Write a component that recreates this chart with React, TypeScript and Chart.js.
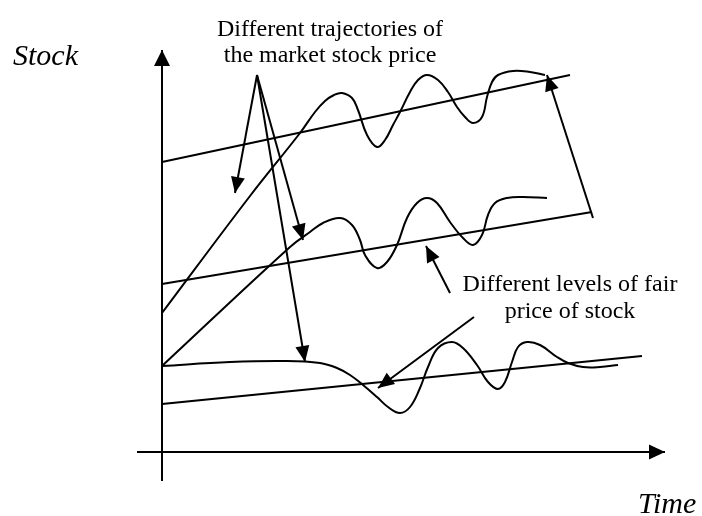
import React, { useEffect, useRef } from "react";
import { Chart, registerables } from "chart.js";

Chart.register(...registerables);

type P = { x: number; y: number };

// Coordinate system: time on x (0 at the price axis), price on y (0 at the time axis)
const X_RANGE = [-162, 540];
const Y_RANGE = [-64, 452];

const priceAxis: P[] = [{ x: 0, y: -29 }, { x: 0, y: 402 }];
const timeAxis: P[] = [{ x: -25, y: 0 }, { x: 503, y: 0 }];

const fairHigh: P[] = [{ x: 0, y: 290 }, { x: 408, y: 377 }];
const fairMid: P[] = [{ x: 0, y: 168 }, { x: 430, y: 240 }];
const fairLow: P[] = [{ x: 0, y: 48 }, { x: 480, y: 96 }];

const marketHigh: P[] = [
  { x: 0, y: 139 }, { x: 88, y: 256 }, { x: 138, y: 319 }, { x: 153, y: 340 },
  { x: 163, y: 351 }, { x: 172, y: 357 }, { x: 180, y: 359 }, { x: 190, y: 354 },
  { x: 196, y: 342 }, { x: 205, y: 317 }, { x: 215, y: 305 }, { x: 223, y: 312 },
  { x: 231, y: 327 }, { x: 238, y: 340 }, { x: 248, y: 360 }, { x: 256, y: 372 },
  { x: 265, y: 377 }, { x: 276, y: 372 }, { x: 286, y: 360 }, { x: 295, y: 345 },
  { x: 303, y: 335 }, { x: 311, y: 329 }, { x: 320, y: 335 }, { x: 325, y: 355 },
  { x: 330, y: 370 }, { x: 336, y: 377 }, { x: 351, y: 381 }, { x: 368, y: 380 },
  { x: 383, y: 377 },
];
const marketMid: P[] = [
  { x: 0, y: 86 }, { x: 128, y: 205 }, { x: 148, y: 220 }, { x: 161, y: 229 },
  { x: 178, y: 234 }, { x: 190, y: 227 }, { x: 198, y: 212 }, { x: 203, y: 197 },
  { x: 215, y: 184 }, { x: 225, y: 190 }, { x: 235, y: 207 }, { x: 245, y: 234 },
  { x: 255, y: 249 }, { x: 265, y: 254 }, { x: 275, y: 249 }, { x: 288, y: 230 },
  { x: 301, y: 214 }, { x: 311, y: 207 }, { x: 320, y: 217 }, { x: 326, y: 237 },
  { x: 333, y: 249 }, { x: 345, y: 254 }, { x: 361, y: 255 }, { x: 385, y: 254 },
];
const marketLow: P[] = [
  { x: 0, y: 86 }, { x: 68, y: 90 }, { x: 123, y: 91 }, { x: 158, y: 89 },
  { x: 175, y: 84 }, { x: 188, y: 77 }, { x: 201, y: 67 }, { x: 215, y: 55 },
  { x: 226, y: 45 }, { x: 238, y: 39 }, { x: 248, y: 45 }, { x: 258, y: 64 },
  { x: 266, y: 85 }, { x: 276, y: 104 }, { x: 290, y: 110 }, { x: 301, y: 104 },
  { x: 315, y: 87 }, { x: 326, y: 70 }, { x: 336, y: 63 }, { x: 343, y: 70 },
  { x: 350, y: 90 }, { x: 356, y: 105 }, { x: 365, y: 110 }, { x: 378, y: 107 },
  { x: 395, y: 95 }, { x: 406, y: 89 }, { x: 421, y: 85 }, { x: 438, y: 85 },
  { x: 456, y: 87 },
];

const pointerA: P[] = [{ x: 95, y: 377 }, { x: 73, y: 259 }];
const pointerB: P[] = [{ x: 95, y: 377 }, { x: 141, y: 212 }];
const pointerC: P[] = [{ x: 95, y: 377 }, { x: 143, y: 90 }];
const gapArrow: P[] = [{ x: 431, y: 234 }, { x: 385, y: 377 }];
const fairPointerA: P[] = [{ x: 288, y: 159 }, { x: 264, y: 206 }];
const fairPointerB: P[] = [{ x: 312, y: 135 }, { x: 216, y: 64 }];

const trajectoryLabel = ["Different trajectories of", "the market stock price"];
const fairLabel = ["Different levels of fair", "price of stock"];
const yTitle = "Stock";
const xTitle = "Time";

const arrowHeadPlugin = {
  id: "arrowHeads",
  afterDatasetsDraw(chart: any) {
    const ctx = chart.ctx;
    chart.data.datasets.forEach((ds: any, i: number) => {
      if (!ds.head) return;
      const pts = chart.getDatasetMeta(i).data;
      const a = pts[pts.length - 2];
      const b = pts[pts.length - 1];
      const ang = Math.atan2(b.y - a.y, b.x - a.x);
      const [L, W] = ds.head;
      const c = Math.cos(ang), s = Math.sin(ang);
      ctx.save();
      ctx.fillStyle = "#000";
      ctx.beginPath();
      ctx.moveTo(b.x, b.y);
      ctx.lineTo(b.x - L * c + W * s, b.y - L * s - W * c);
      ctx.lineTo(b.x - L * c - W * s, b.y - L * s + W * c);
      ctx.closePath();
      ctx.fill();
      ctx.restore();
    });
  },
};

const textPlugin = {
  id: "diagramText",
  afterDraw(chart: any) {
    const ctx = chart.ctx;
    const xs = chart.scales.x, ys = chart.scales.y;
    const put = (t: string, x: number, y: number, font: string, align: CanvasTextAlign) => {
      ctx.save();
      ctx.fillStyle = "#000";
      ctx.font = font;
      ctx.textAlign = align;
      ctx.textBaseline = "alphabetic";
      ctx.fillText(t, xs.getPixelForValue(x), ys.getPixelForValue(y));
      ctx.restore();
    };
    const body = '24px "Liberation Serif", "Times New Roman", serif';
    const title = 'italic 30px "Liberation Serif", "Times New Roman", serif';
    put(trajectoryLabel[0], 168, 416, body, "center");
    put(trajectoryLabel[1], 168, 390, body, "center");
    put(fairLabel[0], 408, 161, body, "center");
    put(fairLabel[1], 408, 134, body, "center");
    put(yTitle, -149, 387, title, "left");
    put(xTitle, 476, -61, title, "left");
  },
};

export default function App() {
  const ref = useRef<HTMLCanvasElement | null>(null);

  useEffect(() => {
    if (!ref.current) return;
    const line = (data: P[], extra: any = {}) => ({
      data,
      showLine: true,
      borderColor: "#000",
      backgroundColor: "#000",
      borderWidth: 2,
      pointRadius: 0,
      pointHoverRadius: 0,
      tension: 0,
      fill: false,
      ...extra,
    });
    const smooth = { tension: 0.4, borderWidth: 2 };
    const pointer = { head: [16, 7], borderWidth: 2 };
    const chart = new Chart(ref.current, {
      type: "scatter",
      data: {
        datasets: [
          line(priceAxis, { head: [16, 8] }),
          line(timeAxis, { head: [16, 7.5] }),
          line(fairHigh),
          line(fairMid),
          line(fairLow),
          line(marketHigh, smooth),
          line(marketMid, smooth),
          line(marketLow, smooth),
          line(pointerA, pointer),
          line(pointerB, pointer),
          line(pointerC, pointer),
          line(gapArrow, pointer),
          line(fairPointerA, pointer),
          line(fairPointerB, pointer),
        ] as any,
      },
      options: {
        animation: false,
        responsive: true,
        maintainAspectRatio: false,
        devicePixelRatio: 1,
        layout: { padding: 0 },
        events: [],
        plugins: {
          legend: { display: false },
          tooltip: { enabled: false },
        },
        scales: {
          x: { type: "linear", display: false, min: X_RANGE[0], max: X_RANGE[1] },
          y: { type: "linear", display: false, min: Y_RANGE[0], max: Y_RANGE[1] },
        },
      } as any,
      plugins: [arrowHeadPlugin, textPlugin],
    });
    return () => chart.destroy();
  }, []);

  return (
    <div style={{ position: "absolute", left: 0, top: 0, width: 702, height: 516, background: "#fff" }}>
      <canvas ref={ref} />
    </div>
  );
}
